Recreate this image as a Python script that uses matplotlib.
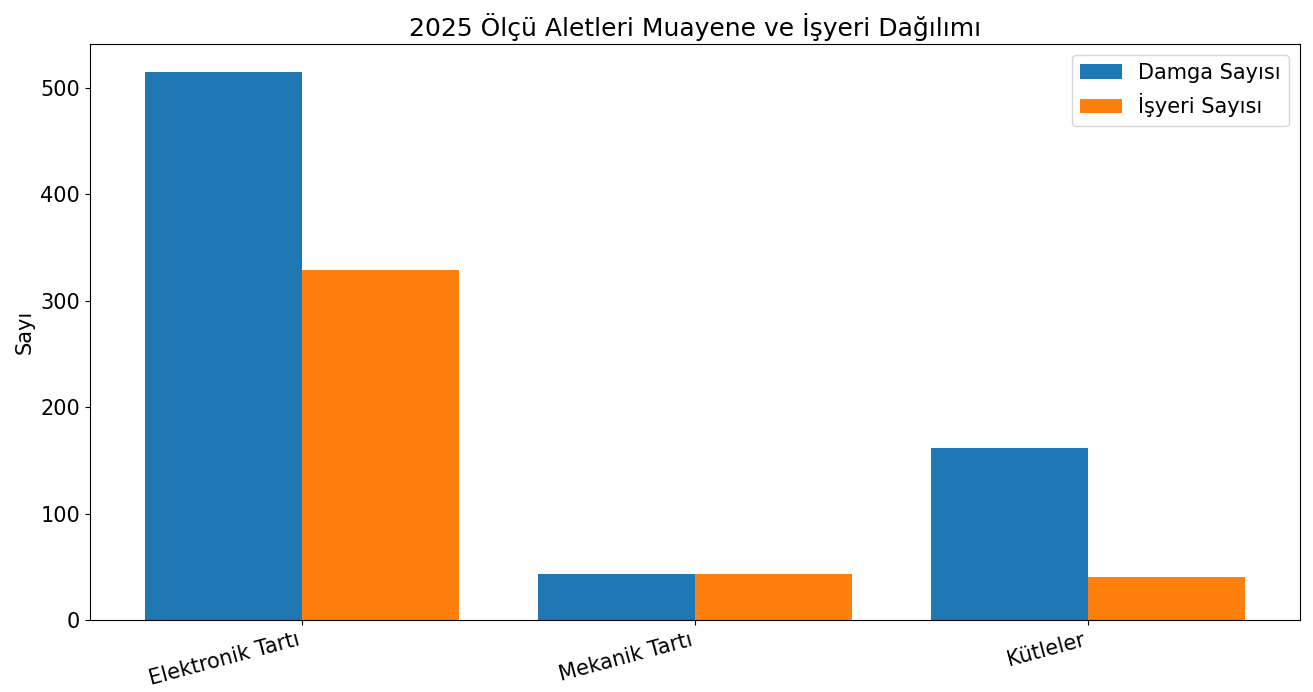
import numpy as np
import matplotlib.pyplot as plt

# veriler
kategoriler = ["Elektronik Tartı", "Mekanik Tartı", "Kütleler"]
damga_sayisi = [515, 43, 162]
isyeri_sayisi = [329, 43, 40]

x = np.arange(len(kategoriler))
w = 0.4

fig, ax = plt.subplots(figsize=(13.13, 6.92), dpi=100)
ax.bar(x - w/2, damga_sayisi, w, label="Damga Sayısı")
ax.bar(x + w/2, isyeri_sayisi, w, label="İşyeri Sayısı")

ax.set_title("2025 Ölçü Aletleri Muayene ve İşyeri Dağılımı", fontsize=18)
ax.set_ylabel("Sayı", fontsize=15)
ax.set_xticks(x)
ax.set_xticklabels(kategoriler, rotation=15, ha='right', fontsize=15)
ax.tick_params(axis='y', labelsize=15)
ax.legend(fontsize=15)

fig.subplots_adjust(left=0.0685, right=0.99, top=0.936, bottom=0.104)
fig.savefig("out.png")
